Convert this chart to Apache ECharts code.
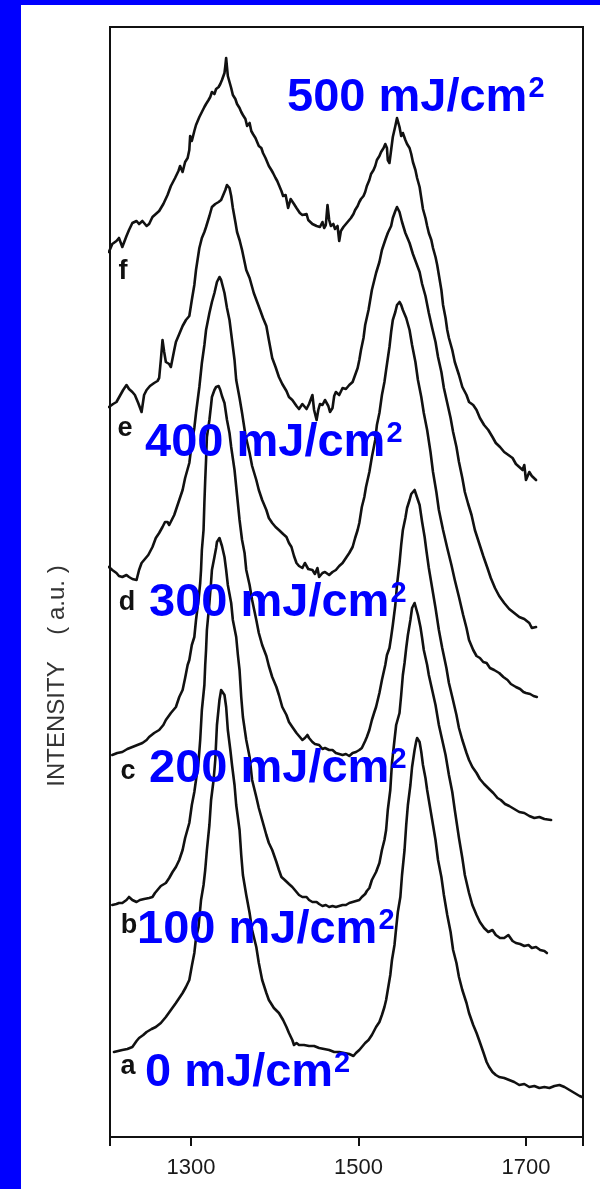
<!DOCTYPE html>
<html>
<head>
<meta charset="utf-8">
<script src="https://cdn.jsdelivr.net/npm/echarts@6/dist/echarts.min.js"></script>
<style>
  html, body { margin: 0; padding: 0; background: #ffffff; }
  #chart { width: 600px; height: 1189px; }
</style>
</head>
<body>
<div id="chart"></div>
<script>
// Raman shift axis (cm-1) and its labelled ticks
const shiftMin = 1203.3;
const shiftMax = 1768.1;
const shiftTicks = [1300, 1500, 1700];

// Spectrum tags and laser fluence labels, bottom (a) to top (f)
const curveTags = ['a', 'b', 'c', 'd', 'e', 'f'];
const doseLabels = ['0 mJ/cm²', '100 mJ/cm²', '200 mJ/cm²', '300 mJ/cm²', '400 mJ/cm²', '500 mJ/cm²'];

// Offset spectra: [Raman shift (cm-1), intensity (a.u.)]
const spectrumA = [
  [1208,8.5],[1213,8.6],[1218,8.7],[1224,8.8],[1230,9.0],[1235,9.6],[1238,9.9],[1243,10.2],[1247,10.5],
  [1253,10.8],[1258,11.0],[1264,11.4],[1270,12.0],[1276,12.7],[1282,13.4],[1286,13.9],[1290,14.4],
  [1294,15.0],[1298,15.7],[1301,17.1],[1304,18.4],[1306,19.9],[1309,21.0],[1310,21.9],[1312,23.7],
  [1315,25.2],[1317,26.7],[1319,28.7],[1322,31.2],[1324,33.7],[1327,35.7],[1329,37.7],[1331,41.2],
  [1334,43.7],[1336,44.7],[1337,44.8],[1340,44.2],[1342,43.0],[1344,40.7],[1347,38.7],[1349,37.2],
  [1352,35.2],[1354,33.2],[1358,30.7],[1360,28.2],[1362,26.2],[1366,24.2],[1370,22.4],[1373,20.7],
  [1378,19.0],[1381,17.4],[1385,15.7],[1390,14.4],[1393,13.7],[1399,12.9],[1405,12.4],[1410,11.7],
  [1414,11.0],[1417,10.4],[1421,9.7],[1423,9.2],[1426,9.4],[1429,9.2],[1435,9.2],[1441,9.1],[1447,9.1],
  [1453,8.9],[1459,8.8],[1465,8.7],[1471,8.5],[1477,8.5],[1483,8.4],[1489,8.3],[1494,8.1],[1497,8.4],
  [1501,8.7],[1504,9.0],[1508,9.4],[1512,9.7],[1516,10.2],[1521,11.0],[1525,11.5],[1528,12.2],
  [1531,13.0],[1533,13.7],[1535,14.7],[1538,16.2],[1540,17.7],[1543,19.2],[1545,20.9],[1547,22.5],
  [1550,24.0],[1552,26.2],[1555,28.7],[1557,31.2],[1559,33.2],[1562,35.2],[1564,37.0],[1567,38.7],
  [1569,39.6],[1570,39.9],[1573,39.5],[1575,38.5],[1577,37.2],[1580,35.9],[1582,34.7],[1584,33.7],
  [1588,31.7],[1592,29.7],[1595,27.7],[1599,26.0],[1602,24.2],[1606,22.2],[1610,20.5],[1613,18.7],
  [1617,17.4],[1620,16.0],[1624,14.7],[1629,13.4],[1632,12.4],[1637,11.2],[1641,10.4],[1644,9.7],
  [1649,8.5],[1653,7.5],[1656,7.0],[1660,6.5],[1664,6.2],[1668,6.0],[1674,5.9],[1680,5.7],[1686,5.5],
  [1692,5.2],[1698,5.3],[1704,5.0],[1710,5.1],[1716,4.9],[1722,5.0],[1728,4.9],[1734,5.1],[1740,5.2],
  [1746,5.0],[1752,4.7],[1758,4.4],[1764,4.1],[1767,4.0]
];

const spectrumB = [
  [1206,23.2],[1211,23.3],[1214,23.4],[1218,23.4],[1223,23.7],[1226,24.0],[1230,23.7],[1235,23.5],
  [1239,23.7],[1244,23.8],[1250,23.9],[1254,24.0],[1257,24.4],[1260,24.7],[1264,25.1],[1270,25.4],
  [1274,25.9],[1278,26.5],[1282,27.0],[1286,27.7],[1290,28.7],[1293,29.9],[1298,31.4],[1301,33.2],
  [1304,34.5],[1306,35.7],[1309,37.5],[1311,39.7],[1313,42.7],[1316,45.2],[1317,47.2],[1318,48.7],
  [1319,50.7],[1322,53.4],[1324,55.5],[1325,56.7],[1328,58.0],[1330,58.9],[1331,59.5],[1334,59.9],
  [1336,59.7],[1337,59.1],[1340,58.0],[1342,56.7],[1344,55.2],[1348,53.4],[1350,51.7],[1354,50.0],
  [1356,48.2],[1358,46.7],[1360,44.0],[1362,42.0],[1366,39.7],[1370,38.0],[1373,35.7],[1378,34.0],
  [1381,32.9],[1385,31.7],[1390,30.2],[1393,29.4],[1397,28.7],[1402,27.5],[1405,26.7],[1408,26.0],
  [1412,25.7],[1417,25.3],[1421,25.0],[1426,24.5],[1429,24.2],[1433,24.0],[1438,24.0],[1441,23.7],
  [1445,23.5],[1450,23.5],[1453,23.3],[1457,23.1],[1461,23.2],[1465,23.0],[1469,23.1],[1473,23.0],
  [1477,23.1],[1481,23.2],[1485,23.2],[1489,23.4],[1493,23.5],[1497,23.6],[1501,23.7],[1504,24.0],
  [1508,24.3],[1510,24.6],[1513,24.9],[1516,25.7],[1521,26.5],[1525,27.4],[1528,28.7],[1531,29.7],
  [1533,30.7],[1535,32.7],[1538,34.7],[1540,37.4],[1543,39.7],[1545,41.2],[1549,42.4],[1551,44.2],
  [1553,46.2],[1555,47.4],[1557,48.9],[1559,50.2],[1562,51.7],[1564,52.9],[1567,53.4],[1569,53.2],
  [1571,52.2],[1574,51.0],[1576,49.9],[1578,48.7],[1582,47.2],[1584,46.2],[1588,44.7],[1592,43.2],
  [1596,41.2],[1600,39.7],[1604,38.2],[1608,36.2],[1612,34.5],[1615,32.7],[1620,29.9],[1624,27.9],
  [1627,26.2],[1632,24.4],[1636,23.2],[1641,22.2],[1645,21.5],[1650,20.9],[1655,20.5],[1660,20.7],
  [1664,20.2],[1669,19.9],[1674,19.9],[1679,20.2],[1684,19.6],[1688,19.4],[1693,19.3],[1698,19.1],
  [1703,19.2],[1707,18.9],[1712,19.0],[1717,18.7],[1722,18.6],[1725,18.4]
];

const spectrumC = [
  [1206,38.2],[1212,38.4],[1218,38.5],[1224,38.8],[1230,39.0],[1236,39.2],[1242,39.4],[1247,39.7],
  [1250,40.0],[1256,40.4],[1262,40.7],[1267,41.2],[1270,41.7],[1276,42.4],[1282,43.0],[1286,44.0],
  [1290,44.7],[1293,45.9],[1296,47.2],[1298,47.7],[1301,49.2],[1304,50.0],[1306,51.7],[1309,53.7],
  [1311,55.4],[1312,56.7],[1313,58.7],[1315,60.7],[1316,63.4],[1317,65.7],[1318,67.7],[1319,70.0],
  [1322,71.7],[1324,73.2],[1325,74.0],[1328,74.7],[1330,75.0],[1333,75.1],[1335,74.7],[1337,74.1],
  [1340,73.4],[1343,71.7],[1346,70.4],[1348,69.0],[1352,66.7],[1355,64.2],[1358,61.7],[1361,59.7],
  [1364,58.4],[1366,56.7],[1370,55.2],[1373,53.7],[1378,51.7],[1381,50.4],[1385,49.2],[1390,48.1],
  [1393,47.1],[1397,46.0],[1402,45.0],[1405,44.2],[1409,43.0],[1414,42.2],[1417,41.5],[1421,41.0],
  [1426,40.4],[1429,40.1],[1433,39.7],[1436,39.9],[1439,40.2],[1441,39.9],[1445,39.5],[1448,39.3],
  [1453,39.2],[1457,38.8],[1460,38.9],[1465,38.7],[1469,38.7],[1473,38.4],[1477,38.3],[1481,38.2],
  [1485,38.3],[1489,38.1],[1493,38.4],[1497,38.5],[1501,38.7],[1504,38.9],[1508,39.6],[1510,40.0],
  [1513,40.7],[1516,41.7],[1519,42.5],[1521,43.0],[1525,44.4],[1528,45.7],[1532,47.2],[1534,48.2],
  [1537,48.9],[1539,50.0],[1541,51.2],[1544,53.2],[1546,55.2],[1549,57.4],[1551,59.2],[1553,60.7],
  [1556,61.9],[1558,62.9],[1561,63.7],[1563,64.3],[1567,64.7],[1569,64.5],[1573,63.2],[1576,61.5],
  [1579,60.0],[1581,58.7],[1584,56.9],[1588,54.9],[1592,52.9],[1596,50.7],[1600,48.9],[1605,46.9],
  [1608,45.4],[1612,44.0],[1617,42.2],[1620,40.9],[1624,39.7],[1629,38.4],[1632,37.7],[1636,37.0],
  [1641,36.4],[1645,35.8],[1650,35.3],[1656,34.8],[1661,34.4],[1666,33.9],[1670,33.7],[1675,33.3],
  [1680,33.1],[1686,32.8],[1692,32.5],[1698,32.4],[1704,32.1],[1710,31.9],[1716,32.0],[1722,31.8],
  [1730,31.7]
];

const spectrumD = [
  [1202,57.0],[1206,56.7],[1211,56.4],[1214,56.1],[1218,56.0],[1223,56.2],[1226,56.0],[1230,55.8],
  [1235,55.7],[1238,56.7],[1241,57.4],[1244,57.7],[1249,58.2],[1254,59.0],[1258,59.9],[1262,60.4],
  [1266,61.0],[1269,61.5],[1272,61.5],[1274,61.2],[1276,61.4],[1280,62.2],[1282,62.7],[1286,63.7],
  [1290,64.7],[1293,65.9],[1298,67.4],[1301,69.4],[1304,70.9],[1306,72.4],[1310,75.0],[1313,77.4],
  [1316,79.2],[1318,80.7],[1322,82.4],[1325,83.5],[1328,84.4],[1331,85.5],[1334,86.0],[1336,85.7],
  [1340,84.4],[1343,82.9],[1346,81.7],[1349,79.7],[1352,77.7],[1354,75.7],[1358,73.9],[1361,72.4],
  [1365,70.2],[1370,68.4],[1373,67.1],[1378,65.7],[1381,64.7],[1385,63.7],[1390,62.7],[1393,61.9],
  [1397,61.4],[1401,61.0],[1405,60.7],[1410,60.3],[1414,60.0],[1417,59.4],[1420,59.0],[1423,58.1],
  [1426,57.4],[1429,57.1],[1433,56.9],[1436,57.4],[1440,56.8],[1445,56.7],[1448,56.3],[1451,56.9],
  [1453,56.0],[1457,56.4],[1460,56.5],[1465,56.2],[1469,56.5],[1473,56.7],[1477,57.1],[1481,57.4],
  [1485,57.9],[1489,58.4],[1493,59.0],[1496,59.9],[1499,60.7],[1501,61.4],[1504,63.0],[1507,64.0],
  [1509,65.0],[1513,66.5],[1516,68.0],[1520,69.7],[1522,71.2],[1525,72.4],[1528,74.2],[1531,75.5],
  [1533,76.7],[1537,79.0],[1539,80.5],[1541,81.7],[1544,82.5],[1546,83.2],[1549,83.5],[1551,83.2],
  [1553,82.7],[1557,81.9],[1561,80.7],[1564,79.2],[1568,77.5],[1571,75.7],[1575,74.0],[1578,72.4],
  [1582,70.7],[1586,68.5],[1589,66.5],[1593,64.5],[1596,62.7],[1601,60.7],[1606,58.9],[1611,57.2],
  [1615,55.7],[1620,54.0],[1625,52.2],[1629,50.9],[1632,49.7],[1637,48.7],[1641,48.1],[1645,47.9],
  [1649,47.5],[1653,47.4],[1657,46.9],[1662,46.7],[1668,46.4],[1673,46.0],[1678,45.7],[1682,45.3],
  [1688,45.0],[1693,44.8],[1697,44.5],[1700,44.4],[1705,44.3],[1709,44.1],[1713,44.0]
];

const spectrumE = [
  [1202,73.0],[1207,73.3],[1211,73.5],[1215,74.1],[1219,74.7],[1223,75.2],[1226,74.8],[1230,74.5],
  [1233,74.2],[1237,73.4],[1241,72.5],[1244,74.2],[1247,74.7],[1251,75.1],[1256,75.4],[1260,75.6],
  [1262,75.9],[1264,77.7],[1266,79.7],[1268,78.5],[1270,77.5],[1274,77.3],[1276,77.0],[1280,78.7],
  [1282,79.5],[1286,80.3],[1290,81.1],[1294,81.7],[1298,82.1],[1301,83.7],[1304,85.2],[1306,86.7],
  [1310,88.9],[1313,89.9],[1316,90.5],[1318,91.0],[1322,92.1],[1325,93.0],[1329,93.3],[1333,93.5],
  [1336,93.7],[1338,94.1],[1341,94.7],[1343,95.2],[1346,94.9],[1348,94.1],[1350,92.9],[1353,91.5],
  [1355,90.5],[1358,89.7],[1361,88.7],[1364,87.5],[1366,86.7],[1370,85.9],[1373,85.0],[1375,84.4],
  [1379,83.5],[1383,82.6],[1386,81.9],[1390,81.1],[1393,79.7],[1397,77.9],[1401,77.0],[1405,76.0],
  [1409,75.3],[1414,74.6],[1417,74.0],[1421,73.7],[1426,73.1],[1429,72.8],[1433,73.3],[1438,72.8],
  [1441,73.3],[1445,74.2],[1447,72.7],[1450,71.7],[1452,72.7],[1454,73.3],[1457,73.2],[1460,73.7],
  [1464,73.1],[1466,72.5],[1469,72.9],[1471,74.1],[1473,74.5],[1477,74.2],[1481,74.9],[1485,74.8],
  [1489,75.2],[1493,75.5],[1496,76.2],[1499,76.9],[1501,77.7],[1503,78.7],[1506,79.9],[1508,81.2],
  [1512,82.7],[1516,84.7],[1521,86.4],[1525,87.5],[1528,88.7],[1532,89.7],[1535,90.4],[1539,91.1],
  [1541,91.9],[1544,92.6],[1546,93.0],[1549,92.5],[1552,91.5],[1556,90.4],[1561,89.4],[1565,88.3],
  [1569,87.4],[1573,86.5],[1576,85.3],[1580,84.1],[1584,82.4],[1588,80.9],[1592,79.5],[1595,78.0],
  [1599,76.5],[1602,74.9],[1606,73.4],[1610,71.9],[1613,70.5],[1617,69.0],[1620,67.5],[1624,65.9],
  [1627,64.5],[1631,63.3],[1635,62.2],[1639,60.7],[1644,59.4],[1649,58.1],[1654,56.9],[1658,55.9],
  [1663,54.9],[1668,54.1],[1674,53.4],[1680,52.8],[1686,52.4],[1692,52.0],[1698,51.8],[1704,51.4],
  [1707,50.9],[1712,51.0]
];

const spectrumF = [
  [1202,88.5],[1206,89.3],[1211,89.6],[1214,89.9],[1218,89.0],[1223,90.1],[1226,90.7],[1230,91.4],
  [1235,91.6],[1238,91.3],[1242,91.6],[1247,91.1],[1250,91.3],[1254,92.0],[1258,92.3],[1262,92.6],
  [1267,93.3],[1272,94.2],[1276,95.1],[1281,95.9],[1285,96.6],[1287,97.1],[1290,96.5],[1293,97.5],
  [1296,97.9],[1298,98.7],[1299,100.1],[1301,99.6],[1304,100.6],[1306,101.2],[1310,102.0],[1313,102.5],
  [1316,103.0],[1318,103.3],[1321,103.7],[1323,104.0],[1325,104.5],[1328,104.3],[1330,104.8],
  [1333,105.0],[1335,105.3],[1337,105.7],[1340,106.4],[1341,107.1],[1342,107.9],[1343,107.0],
  [1344,106.1],[1346,105.5],[1348,104.9],[1350,104.2],[1353,103.8],[1355,103.3],[1358,102.9],
  [1360,102.5],[1362,102.2],[1365,101.8],[1367,101.1],[1370,101.4],[1372,100.6],[1374,100.3],
  [1377,99.9],[1379,99.5],[1381,99.1],[1384,98.9],[1386,98.4],[1389,97.9],[1391,97.7],[1393,97.1],
  [1396,96.7],[1398,96.4],[1401,95.9],[1403,95.6],[1405,95.2],[1408,94.6],[1410,94.1],[1413,94.2],
  [1415,94.4],[1416,92.9],[1419,93.8],[1421,94.0],[1423,93.3],[1426,92.9],[1428,92.7],[1430,92.4],
  [1433,92.2],[1435,92.0],[1438,92.3],[1440,91.7],[1442,91.5],[1445,91.3],[1447,91.4],[1450,91.1],
  [1452,91.2],[1454,91.0],[1457,91.5],[1459,90.9],[1461,91.2],[1463,93.2],[1465,91.7],[1467,91.1],
  [1470,91.3],[1472,90.8],[1475,91.1],[1477,89.6],[1479,90.6],[1482,91.0],[1484,91.2],[1487,91.5],
  [1489,91.7],[1491,91.9],[1494,92.3],[1496,92.7],[1499,93.1],[1501,93.5],[1503,93.8],[1506,94.1],
  [1508,94.5],[1510,95.1],[1513,95.7],[1515,96.3],[1518,96.7],[1520,97.1],[1522,97.7],[1525,98.1],
  [1527,98.5],[1530,98.9],[1532,99.3],[1534,98.9],[1535,97.7],[1537,97.4],[1539,98.7],[1541,100.0],
  [1544,101.1],[1546,101.9],[1549,101.0],[1551,100.1],[1553,100.4],[1556,99.7],[1558,99.3],
  [1561,98.9],[1563,98.3],[1565,97.5],[1568,96.7],[1570,95.9],[1573,95.0],[1575,93.9],[1577,92.8],
  [1580,91.9],[1582,91.1],[1584,90.4],[1587,89.7],[1589,88.9],[1592,88.0],[1594,87.2],[1596,86.2],
  [1599,84.7],[1601,83.2],[1604,81.9],[1606,80.7],[1608,79.9],[1612,78.7],[1615,77.5],[1620,76.2],
  [1624,75.0],[1629,74.2],[1632,73.5],[1637,73.2],[1641,72.7],[1645,71.9],[1650,71.2],[1655,70.7],
  [1660,70.0],[1664,69.4],[1669,69.0],[1674,68.5],[1679,68.2],[1684,67.9],[1688,67.3],[1692,67.0],
  [1696,66.7],[1698,67.2],[1700,65.7],[1704,66.5],[1707,66.1],[1712,65.7]
];

const spectra = [spectrumA, spectrumB, spectrumC, spectrumD, spectrumE, spectrumF];

// Pixel placement of the annotations inside the 600 x 1189 canvas
const tagPos = [[128, 1067], [129, 926], [128, 772], [127, 603], [125, 429], [123, 272]];
const dosePos = [[145, 1087], [137, 944], [149, 783], [149, 617], [145, 457], [287, 112]];

const BLUE = '#0000ff';
const INK = '#111111';

const chart = echarts.init(document.getElementById('chart'), null, { renderer: 'canvas' });

const series = spectra.map((pts, i) => ({
  type: 'line',
  name: curveTags[i],
  data: pts,
  showSymbol: false,
  symbol: 'none',
  smooth: false,
  lineStyle: { color: INK, width: 2.6, join: 'round', cap: 'round' },
  emphasis: { disabled: true },
  z: 3
}));

const graphics = [
  { type: 'rect', shape: { x: 0, y: 0, width: 21, height: 1189 }, style: { fill: BLUE }, z: 10 },
  { type: 'rect', shape: { x: 0, y: 0, width: 600, height: 5 }, style: { fill: BLUE }, z: 10 },
  {
    type: 'text', x: 57, y: 676, rotation: Math.PI / 2,
    style: {
      text: 'INTENSITY    ( a.u. )',
      font: '24px "Liberation Sans", Arial, sans-serif',
      fill: '#333333', align: 'center', verticalAlign: 'middle'
    },
    z: 10
  }
];

curveTags.forEach((t, i) => {
  graphics.push({
    type: 'text', x: tagPos[i][0], y: tagPos[i][1],
    style: {
      text: t,
      font: 'bold 27px "Liberation Sans", Arial, sans-serif',
      fill: INK, align: 'center', verticalAlign: 'middle'
    },
    z: 11
  });
});

// Fluence labels: the unit's squared sign is set as a raised "2"
doseLabels.forEach((t, i) => {
  const base = t.replace('²', '');
  graphics.push({
    type: 'text', x: dosePos[i][0], y: dosePos[i][1] - 14,
    style: {
      text: '{n|' + base + '}{s|2}',
      fill: BLUE, align: 'left', verticalAlign: 'middle',
      rich: {
        n: { fontSize: 47, fontWeight: 'bold', fontFamily: '"Liberation Sans", Arial, sans-serif', fill: BLUE, verticalAlign: 'bottom' },
        s: { fontSize: 29, fontWeight: 'bold', fontFamily: '"Liberation Sans", Arial, sans-serif', fill: BLUE, verticalAlign: 'top', padding: [0, 0, 0, 1] }
      }
    },
    z: 12
  });
});

chart.setOption({
  animation: false,
  backgroundColor: '#ffffff',
  grid: {
    left: 110, right: 17, top: 27, bottom: 52,
    show: true, borderColor: INK, borderWidth: 2, backgroundColor: 'transparent'
  },
  xAxis: {
    type: 'value',
    min: shiftMin,
    max: shiftMax,
    splitLine: { show: false },
    axisLine: { show: true, lineStyle: { color: INK, width: 2 } },
    axisTick: {
      show: true, length: 9, inside: false,
      lineStyle: { color: INK, width: 2 },
      customValues: [shiftMin].concat(shiftTicks, [shiftMax])
    },
    axisLabel: {
      show: true, margin: 20,
      customValues: shiftTicks,
      formatter: (v) => String(v),
      color: '#1a1a1a',
      fontSize: 22,
      fontFamily: '"Liberation Sans", Arial, sans-serif'
    }
  },
  yAxis: {
    type: 'value',
    min: 0,
    max: 111,
    splitLine: { show: false },
    axisLine: { show: true, lineStyle: { color: INK, width: 2 } },
    axisTick: { show: false },
    axisLabel: { show: false }
  },
  series: series,
  graphic: { elements: graphics }
});
</script>
</body>
</html>
